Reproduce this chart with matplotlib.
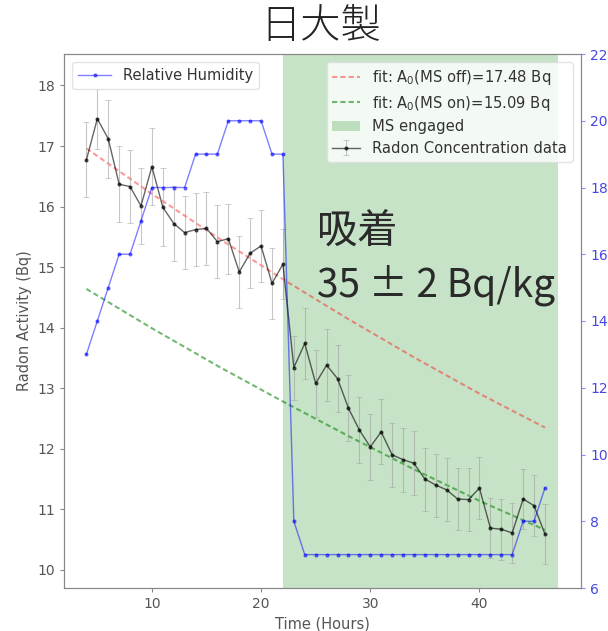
import matplotlib
matplotlib.use("Agg")
import matplotlib.pyplot as plt

# ---- data ----
hours = [4, 5, 6, 7, 8, 9, 10, 11, 12, 13, 14, 15, 16, 17, 18, 19, 20, 21, 22,
         23, 24, 25, 26, 27, 28, 29, 30, 31, 32, 33, 34, 35, 36, 37, 38, 39, 40,
         41, 42, 43, 44, 45, 46]
radon = [16.77, 17.45, 17.12, 16.37, 16.33, 16.01, 16.66, 15.99, 15.72, 15.57,
         15.62, 15.64, 15.42, 15.47, 14.92, 15.23, 15.35, 14.73, 15.05,
         13.34, 13.74, 13.08, 13.38, 13.16, 12.67, 12.31, 12.03, 12.28, 11.90,
         11.82, 11.76, 11.50, 11.40, 11.32, 11.17, 11.16, 11.35, 10.69, 10.67,
         10.61, 11.17, 11.06, 10.59]
radon_err = [0.62, 0.50, 0.64, 0.63, 0.60, 0.62, 0.63, 0.64, 0.62, 0.60,
             0.60, 0.60, 0.60, 0.58, 0.60, 0.58, 0.60, 0.58, 0.58,
             0.53, 0.58, 0.55, 0.59, 0.55, 0.55, 0.54, 0.54, 0.54, 0.53,
             0.53, 0.53, 0.52, 0.52, 0.52, 0.52, 0.52, 0.51, 0.50, 0.50,
             0.50, 0.50, 0.50, 0.50]
humidity = [13, 14, 15, 16, 16, 17, 18, 18, 18, 18, 19, 19, 19, 20, 20, 20, 20,
            19, 19, 8, 7, 7, 7, 7, 7, 7, 7, 7, 7, 7, 7, 7, 7, 7, 7, 7, 7, 7, 7,
            7, 8, 8, 9]
fit_hours = [4, 10, 16, 22, 28, 34, 40, 46]
fit_off = [16.96, 16.21, 15.49, 14.80, 14.14, 13.51, 12.91, 12.35]
fit_on = [14.64, 13.99, 13.37, 12.78, 12.21, 11.66, 11.14, 10.66]
ms_span = (22.0, 47.2)

label_off = r"fit: A$_0$(MS off)=17.48 Bq"
label_on = r"fit: A$_0$(MS on)=15.09 Bq"
cjk = ['Noto Sans CJK JP', 'DejaVu Sans']

fig = plt.figure(figsize=(6.08, 6.31), dpi=100)
ax1 = fig.add_axes([64/608, 1-588/631, (581-64)/608, (588-54)/631])
ax2 = ax1.twinx()

span = ax1.axvspan(ms_span[0], ms_span[1], color='g', alpha=0.22, lw=0, label='MS engaged')
l_off, = ax1.plot(fit_hours, fit_off, color='r', alpha=0.4, lw=1.5, dashes=(2.5, 1.5),
                  label=label_off)
l_on, = ax1.plot(fit_hours, fit_on, color='g', alpha=0.55, lw=1.5, dashes=(2.5, 1.5),
                 label=label_on)
eb = ax1.errorbar(hours, radon, yerr=radon_err, fmt='.-', color='k', ecolor='#a0a0a0',
                  elinewidth=0.8, capsize=2, capthick=0.6, alpha=0.6, markersize=4,
                  lw=1, label='Radon Concentration data')

hl, = ax2.plot(hours, humidity, '.-', color='b', alpha=0.5, lw=1, markersize=4,
               label='Relative Humidity')

ax1.set_xlim(1.95, 49.3)
ax1.set_ylim(9.7, 18.52)
ax2.set_ylim(6, 22)
ax1.set_xticks([10, 20, 30, 40])
ax1.set_yticks(range(10, 19))
ax2.set_yticks(range(6, 23, 2))

grey = '#555555'
for sp in ax1.spines.values():
    sp.set_color('#888888')
for sp in ax2.spines.values():
    sp.set_color('#888888')
ax1.tick_params(colors='#888888', labelcolor=grey, labelsize=10, length=3)
ax2.tick_params(axis='y', colors='#8888ff', labelcolor='#4848e0', labelsize=10, length=3)

ax1.set_xlabel('Time (Hours)', fontsize=10.5, color=grey)
ax1.set_ylabel('Radon Activity (Bq)', fontsize=10.5, color=grey)

leg2 = ax1.legend([l_off, l_on, span, eb], [label_off, label_on, 'MS engaged', 'Radon Concentration data'],
                  loc='upper right', fontsize=10.6, framealpha=0.8, edgecolor='#dddddd',
                  handlelength=1.9, borderaxespad=0.55, labelspacing=0.45)
for t in leg2.get_texts():
    t.set_color('#333333')
leg1 = ax2.legend([hl], ['Relative Humidity'], loc='upper left', fontsize=10.5,
                  framealpha=0.8, edgecolor='#dddddd', borderaxespad=0.55,
                  handlelength=2.3)
for t in leg1.get_texts():
    t.set_color('#333333')

fig.text(0.527, 0.957, '日大製', ha='center', va='center', fontsize=29,
         family=cjk, color='#222222', fontweight='light')
ax1.text(0.489, 0.644, '吸着', transform=ax1.transAxes, ha='left', va='baseline',
         fontsize=29, family=cjk, color='#2a2a2a')
ax1.text(0.489, 0.545, '35 ± 2 Bq/kg', transform=ax1.transAxes, ha='left', va='baseline',
         fontsize=28, family=cjk, color='#2a2a2a')

fig.savefig('out.png', dpi=100)
